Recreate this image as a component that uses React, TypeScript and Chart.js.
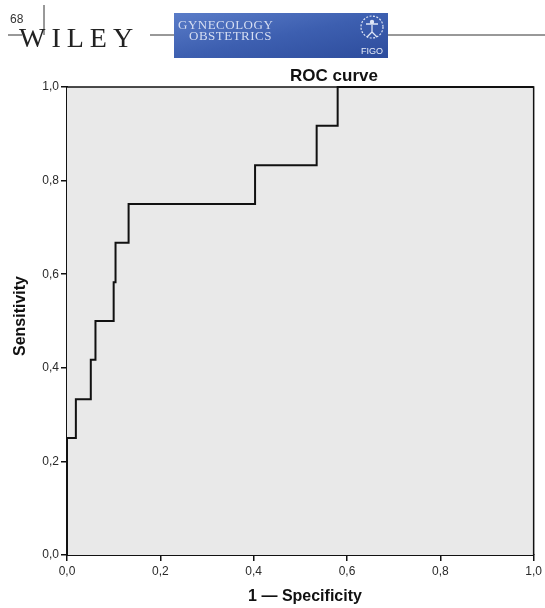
import React, { useEffect, useRef } from "react";
import { Chart, registerables } from "chart.js";

Chart.register(...registerables);

// ROC curve vertices (1 - specificity, sensitivity)
const falsePositiveRate = [0, 0, 0.019, 0.051, 0.061, 0.1, 0.104, 0.132, 0.403, 0.535, 0.58, 1.0];
const truePositiveRate = [0, 0.25, 0.333, 0.417, 0.5, 0.583, 0.667, 0.75, 0.833, 0.917, 1.0, 1.0];
const axisTicks = [0, 0.2, 0.4, 0.6, 0.8, 1.0];

const chartTitle = "ROC curve";
const xTitle = "1 \u2014 Specificity";
const yTitle = "Sensitivity";

const SANS = '"Liberation Sans", Arial, sans-serif';
const fmt = (v: number) => v.toFixed(1).replace(".", ",");

const framePlugin = {
  id: "rocFrame",
  beforeDatasetsDraw(chart: any) {
    const { ctx, chartArea: a } = chart;
    ctx.save();
    ctx.fillStyle = "#e9e9e9";
    ctx.fillRect(a.left, a.top, a.right - a.left, a.bottom - a.top);
    ctx.restore();
  },
  afterDraw(chart: any) {
    const { ctx, chartArea: a } = chart;
    ctx.save();
    ctx.strokeStyle = "#111";
    ctx.lineWidth = 1.5;
    ctx.beginPath();
    ctx.moveTo(a.left, a.top);
    ctx.lineTo(a.right, a.top);
    ctx.lineTo(a.right, a.bottom);
    ctx.stroke();

    ctx.fillStyle = "#111";
    ctx.textAlign = "center";
    ctx.textBaseline = "middle";
    ctx.font = `bold 17px ${SANS}`;
    ctx.fillText(chartTitle, 334, 76);

    ctx.font = `bold 16px ${SANS}`;
    ctx.fillText(xTitle, 305, 597);

    ctx.translate(21, 316);
    ctx.rotate(-Math.PI / 2);
    ctx.fillText(yTitle, 0, 0);
    ctx.restore();
  },
};

function Header() {
  return (
    <svg width={545} height={62} style={{ position: "absolute", left: 0, top: 0 }}>
      <defs>
        <linearGradient id="logoBlue" x1="0" y1="0" x2="1" y2="1">
          <stop offset="0" stopColor="#5a7cc8" />
          <stop offset="0.5" stopColor="#3d5fb0" />
          <stop offset="1" stopColor="#2d4c9c" />
        </linearGradient>
      </defs>
      <text x={10} y={23} fontFamily={SANS} fontSize={12} fill="#333">68</text>
      <line x1={44} y1={5} x2={44} y2={35} stroke="#333" strokeWidth={1} />
      <line x1={8} y1={35} x2={22} y2={35} stroke="#333" strokeWidth={1} />
      <text x={19} y={47} fontFamily='"Liberation Serif", serif' fontSize={28} letterSpacing={6} fill="#222">WILEY</text>
      <line x1={150} y1={35} x2={174} y2={35} stroke="#333" strokeWidth={1} />
      <rect x={174} y={13} width={214} height={45} fill="url(#logoBlue)" />
      <text x={178} y={29} fontFamily='"Liberation Serif", serif' fontSize={13} letterSpacing={0.5} fill="#d6def2">GYNECOLOGY</text>
      <text x={189} y={40} fontFamily='"Liberation Serif", serif' fontSize={13} letterSpacing={0.5} fill="#d6def2">OBSTETRICS</text>
      <circle cx={372} cy={27} r={11} fill="none" stroke="#dfe6f6" strokeWidth={1.2} strokeDasharray="2 1.5" />
      <circle cx={372} cy={22} r={2.2} fill="#dfe6f6" />
      <path d="M372 25 L372 32 M366 24 L378 24 M372 32 L367 37 M372 32 L377 37" stroke="#dfe6f6" strokeWidth={1.3} fill="none" />
      <text x={372} y={54} textAnchor="middle" fontFamily={SANS} fontSize={9} fill="#e6ecf8">FIGO</text>
      <line x1={388} y1={35} x2={545} y2={35} stroke="#333" strokeWidth={1} />
    </svg>
  );
}

export default function App() {
  const canvasRef = useRef<HTMLCanvasElement | null>(null);

  useEffect(() => {
    if (!canvasRef.current) return;
    const points = falsePositiveRate.map((x, i) => ({ x, y: truePositiveRate[i] }));
    const tickStyle = { color: "#2a2a2a", font: { family: SANS, size: 12 } };
    const chart = new Chart(canvasRef.current, {
      type: "line",
      data: {
        datasets: [
          {
            data: points,
            stepped: true,
            borderColor: "#111",
            borderWidth: 2,
            pointRadius: 0,
            fill: false,
            clip: false as any,
          },
        ],
      },
      plugins: [framePlugin],
      options: {
        responsive: false,
        animation: false,
        events: [],
        layout: { padding: { top: 87, right: 9, left: 0, bottom: 0 } },
        plugins: { legend: { display: false }, tooltip: { enabled: false }, title: { display: false } },
        scales: {
          x: {
            type: "linear",
            min: 0,
            max: 1,
            afterBuildTicks: (s: any) => {
              s.ticks = axisTicks.map((v) => ({ value: v }));
            },
            afterFit: (s: any) => {
              s.height = 53;
            },
            ticks: { ...tickStyle, padding: 3, maxRotation: 0, callback: (v: any) => fmt(Number(v)) },
            grid: { drawOnChartArea: false, drawTicks: true, tickLength: 6, color: "#111", lineWidth: 1.5 },
            border: { display: true, color: "#111", width: 2 },
          },
          y: {
            type: "linear",
            min: 0,
            max: 1,
            afterBuildTicks: (s: any) => {
              s.ticks = axisTicks.map((v) => ({ value: v }));
            },
            afterFit: (s: any) => {
              s.width = 67;
            },
            ticks: { ...tickStyle, padding: 2, callback: (v: any) => fmt(Number(v)) },
            grid: { drawOnChartArea: false, drawTicks: true, tickLength: 6, color: "#111", lineWidth: 1.5 },
            border: { display: true, color: "#111", width: 2 },
          },
        },
      },
    });
    return () => chart.destroy();
  }, []);

  return (
    <div style={{ position: "absolute", left: 0, top: 0, width: 545, height: 608, background: "#fff", overflow: "hidden" }}>
      <canvas ref={canvasRef} width={545} height={608} style={{ position: "absolute", left: 0, top: 0 }} />
      <Header />
    </div>
  );
}
